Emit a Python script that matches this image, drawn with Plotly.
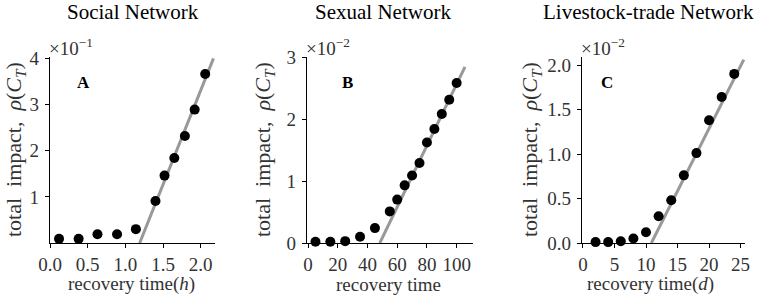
import plotly.graph_objects as go

# ---------------- data (values shown in axis units, i.e. scaled by the ×10^n factor) --------------
titles = ["Social Network", "Sexual Network", "Livestock-trade Network"]
letters = ["A", "B", "C"]
xlabels = ["recovery time(<i>h</i>)", "recovery time", "recovery time(<i>d</i>)"]
exponents = ["−1", "−2", "−2"]

a_x = [0.12, 0.38, 0.63, 0.89, 1.14, 1.40, 1.52, 1.65, 1.79, 1.92, 2.06]
a_y = [0.09, 0.09, 0.19, 0.19, 0.30, 0.91, 1.46, 1.84, 2.32, 2.89, 3.66]
a_fit_x = [1.19, 2.17]
a_fit_y = [0.0, 4.0]

b_x = [5, 15, 25, 35, 45, 55, 60, 65, 70, 75, 80, 85, 90, 95, 100]
b_y = [0.02, 0.02, 0.03, 0.10, 0.24, 0.51, 0.70, 0.93, 1.09, 1.29, 1.62, 1.84, 2.08, 2.31, 2.58]
b_fit_x = [48.3, 105.6]
b_fit_y = [0.0, 2.84]

c_x = [2, 4, 6, 8, 10, 12, 14, 16, 18, 20, 22, 24]
c_y = [0.01, 0.01, 0.02, 0.05, 0.12, 0.30, 0.48, 0.76, 1.01, 1.38, 1.64, 1.90]
c_fit_x = [10.85, 25.5]
c_fit_y = [0.0, 2.06]

a_xticks = [0.0, 0.5, 1.0, 1.5, 2.0]
a_xticktext = ["0.0", "0.5", "1.0", "1.5", "2.0"]
a_yticks = [1, 2, 3, 4]
b_xticks = [0, 20, 40, 60, 80, 100]
b_yticks = [0, 1, 2, 3]
c_xticks = [0, 5, 10, 15, 20, 25]
c_yticks = [0.0, 0.5, 1.0, 1.5, 2.0]
c_yticktext = ["0.0", "0.5", "1.0", "1.5", "2.0"]

# ---------------- layout geometry ----------------
W, H = 757, 297
def fx(px): return px / W
def fy(py): return 1 - py / H

x_dom_px = [(50, 215), (307, 473), (582, 745)]
y_top, y_bot = 57, 243
x_ranges = [[0, 2.19], [-0.7, 111], [-0.15, 25.7]]
y_ranges = [[0, 4.03], [0, 3.0], [0, 2.09]]

FONT = "Liberation Serif"
TXT = "#333333"
fig = go.Figure()

series = [(a_x, a_y, a_fit_x, a_fit_y), (b_x, b_y, b_fit_x, b_fit_y), (c_x, c_y, c_fit_x, c_fit_y)]
for i, (xs, ys, fxs, fys) in enumerate(series):
    sfx = "" if i == 0 else str(i + 1)
    fig.add_trace(go.Scatter(x=fxs, y=fys, mode="lines", line=dict(color="#999999", width=3),
                             xaxis="x" + sfx, yaxis="y" + sfx, showlegend=False, cliponaxis=False,
                             hoverinfo="skip"))
    fig.add_trace(go.Scatter(x=xs, y=ys, mode="markers", marker=dict(color="black", size=10),
                             xaxis="x" + sfx, yaxis="y" + sfx, showlegend=False, cliponaxis=False))

xticks = [(a_xticks, a_xticktext), (b_xticks, [str(v) for v in b_xticks]), (c_xticks, [str(v) for v in c_xticks])]
yticks = [(a_yticks, [str(v) for v in a_yticks]), (b_yticks, [str(v) for v in b_yticks]), (c_yticks, c_yticktext)]

layout = dict(width=W, height=H, margin=dict(l=0, r=0, t=0, b=0, autoexpand=False),
              paper_bgcolor="white", plot_bgcolor="white",
              font=dict(family=FONT, size=15, color=TXT))
annotations = []
for i in range(3):
    sfx = "" if i == 0 else str(i + 1)
    x0, x1 = x_dom_px[i]
    axcommon = dict(showgrid=False, zeroline=False, showline=True, linecolor="black", linewidth=1.2,
                    ticks="outside", ticklen=4, tickcolor="black", tickwidth=1.2,
                    tickfont=dict(family=FONT, size=19, color=TXT))
    layout["xaxis" + sfx] = dict(domain=[fx(x0), fx(x1)], range=x_ranges[i], anchor="y" + sfx,
                                 tickmode="array", tickvals=xticks[i][0], ticktext=xticks[i][1], **axcommon)
    layout["yaxis" + sfx] = dict(domain=[fy(y_bot), fy(y_top)], range=y_ranges[i], anchor="x" + sfx,
                                 tickmode="array", tickvals=yticks[i][0], ticktext=yticks[i][1],
                                 ticklabelstandoff=2, **axcommon)
    title_x = [133, 383, 648][i]
    annotations.append(dict(text=titles[i], x=fx(title_x), y=fy(12), xref="paper", yref="paper",
                            showarrow=False, xanchor="center", yanchor="middle",
                            font=dict(family=FONT, size=21, color="black")))
    annotations.append(dict(text="×10<sup>" + exponents[i] + "</sup>", x=fx(x0 - 3), y=fy(47), xref="paper", yref="paper",
                            showarrow=False, xanchor="left", yanchor="middle",
                            font=dict(family=FONT, size=19, color=TXT)))
    annotations.append(dict(text="<b>" + letters[i] + "</b>", x=fx([83, 347, 607][i]), y=fy(82), xref="paper", yref="paper",
                            showarrow=False, xanchor="center", yanchor="middle",
                            font=dict(family=FONT, size=17, color="black")))
    annotations.append(dict(text=xlabels[i], x=fx([131, 388, 650][i]), y=fy(284), xref="paper", yref="paper",
                            showarrow=False, xanchor="center", yanchor="middle",
                            font=dict(family=FONT, size=19, color=TXT)))
    annotations.append(dict(text="total&nbsp;&nbsp;impact,&nbsp;&nbsp;<i>ρ</i>(<i>C</i><sub><i>T</i></sub>)",
                            x=fx([15, 264, 531][i]), y=fy(150), xref="paper", yref="paper",
                            showarrow=False, xanchor="center", yanchor="middle", textangle=-90,
                            font=dict(family=FONT, size=22, color=TXT)))
layout["annotations"] = annotations
fig.update_layout(**layout)
fig.write_html("out.html", config={"displayModeBar": False},
               post_script="document.body.style.margin='0';document.body.style.padding='0';"
                           "document.documentElement.style.overflow='hidden';")
